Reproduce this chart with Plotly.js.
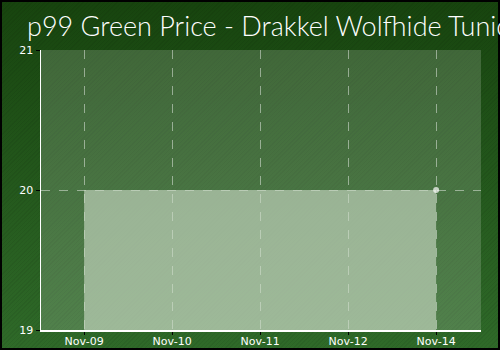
<!DOCTYPE html>
<html>
<head>
<meta charset="utf-8">
<script src="https://cdn.plot.ly/plotly-3.0.1.min.js"></script>
<style>
  html, body { margin: 0; padding: 0; }
  #chart {
    width: 500px; height: 350px; overflow: hidden;
    background:
      repeating-linear-gradient(135deg, rgba(0,0,0,0.06) 0px, rgba(0,0,0,0.06) 1px, rgba(0,0,0,0) 1px, rgba(0,0,0,0) 3px),
      linear-gradient(to bottom, #17440e 0%, #2f6a29 100%);
    box-shadow: inset 0 0 0 2px #000;
  }
</style>
</head>
<body>
<div id="chart"></div>
<script>
const dates = ["Nov-09", "Nov-10", "Nov-11", "Nov-12", "Nov-14"];
const prices = [20, 20, 20, 20, 20];
const yTicks = [19, 20, 21];
const titleText = "p99 Green Price - Drakkel Wolfhide Tunic";

const markerSizes = dates.map((d, i) => i === dates.length - 1 ? 6 : 0);

const trace = {
  x: dates,
  y: prices,
  type: "scatter",
  mode: "lines+markers",
  fill: "tozeroy",
  fillcolor: "rgba(205,220,200,0.62)",
  line: { width: 0, color: "rgba(255,255,255,0)" },
  marker: { size: markerSizes, color: "#ffffff", line: { width: 0 } },
  hoverinfo: "x+y",
  cliponaxis: true
};

const layout = {
  width: 500,
  height: 350,
  margin: { l: 41, r: 19, t: 50, b: 20, pad: 0 },
  paper_bgcolor: "rgba(0,0,0,0)",
  plot_bgcolor: "rgba(255,255,255,0.17)",
  showlegend: false,
  title: {
    text: titleText,
    x: 27 / 500,
    xref: "container",
    xanchor: "left",
    y: 1 - 27 / 350,
    yref: "container",
    yanchor: "middle",
    font: { family: "Lato", size: 27, color: "#ffffff", weight: 300 }
  },
  xaxis: {
    type: "category",
    range: [-0.49, 4.51],
    showline: true,
    linecolor: "#ffffff",
    linewidth: 1.5,
    ticks: "outside",
    ticklen: 3,
    tickwidth: 1,
    tickcolor: "#000000",
    ticklabelstandoff: -3,
    showgrid: true,
    gridcolor: "rgba(255,255,255,0.45)",
    griddash: "dash",
    gridwidth: 1,
    zeroline: false,
    tickfont: { family: "DejaVu Sans", size: 11, color: "#ffffff" },
    fixedrange: true
  },
  yaxis: {
    range: [19, 21],
    tickvals: yTicks,
    ticktext: yTicks.map(String),
    showline: true,
    linecolor: "#ffffff",
    linewidth: 1.5,
    ticks: "outside",
    ticklen: 4,
    tickwidth: 1,
    tickcolor: "#000000",
    showgrid: true,
    gridcolor: "rgba(255,255,255,0.45)",
    griddash: "dash",
    gridwidth: 1,
    zeroline: false,
    tickfont: { family: "DejaVu Sans", size: 11, color: "#ffffff" },
    fixedrange: true
  }
};

Plotly.newPlot("chart", [trace], layout, { displayModeBar: false, staticPlot: true });
</script>
</body>
</html>
